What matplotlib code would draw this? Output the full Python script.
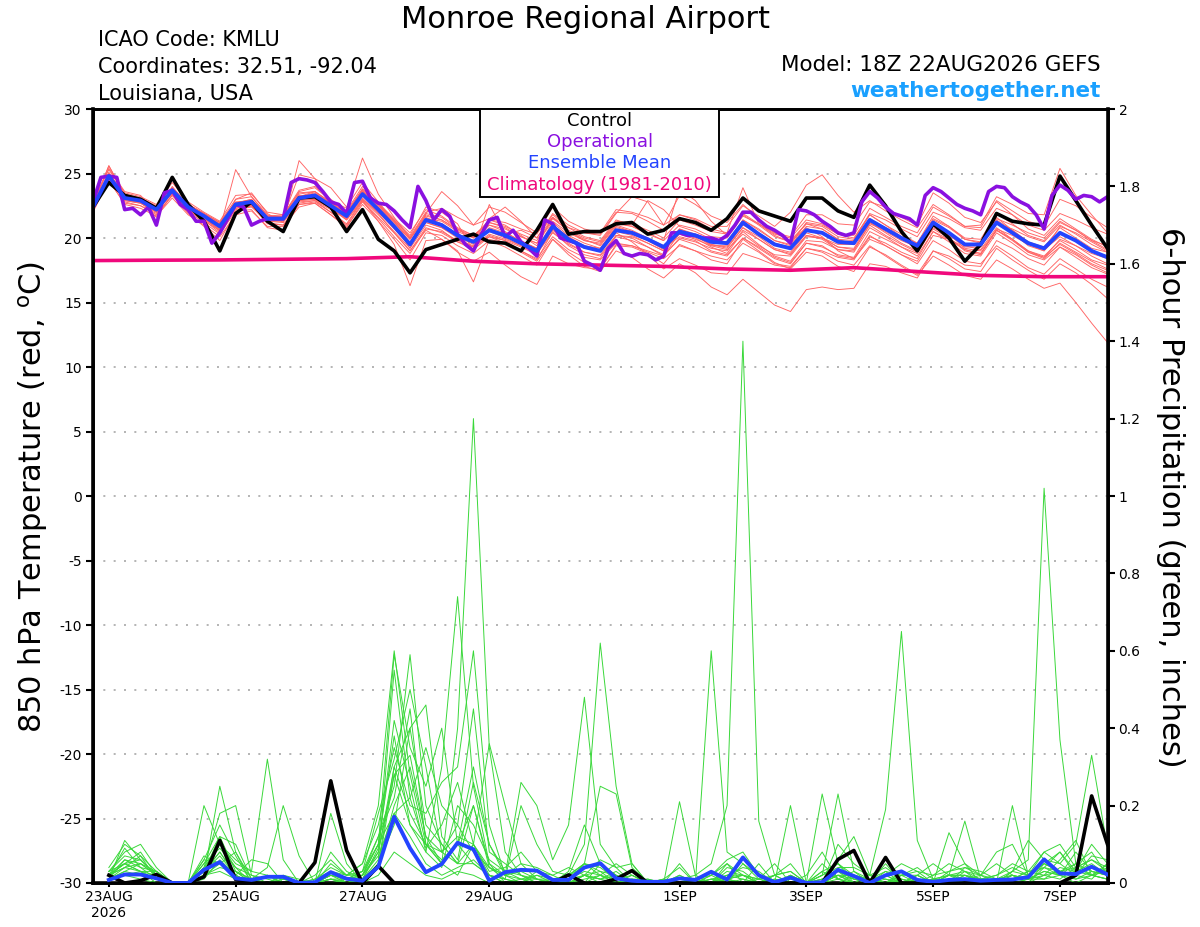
import numpy as np
import matplotlib
matplotlib.use("Agg")
import matplotlib.pyplot as plt
from matplotlib.patches import Rectangle

# ---------------- data ----------------
run_start = np.datetime64("2026-08-22T18")   # 18Z 22AUG2026, 6-hourly steps
tick_dates = np.array(["2026-08-23", "2026-08-25", "2026-08-27", "2026-08-29",
                       "2026-09-01", "2026-09-03", "2026-09-05", "2026-09-07"],
                      dtype="datetime64[h]")
tick_labels = ["23AUG\n2026", "25AUG", "27AUG", "29AUG", "1SEP", "3SEP", "5SEP", "7SEP"]

# 850 hPa temperature, 6-hourly (deg C)
control_t = [22.4, 24.3, 23.3, 23.0, 22.3, 24.7, 22.6, 21.3, 19.0, 21.9, 22.8, 21.3, 20.5, 23.1, 23.2, 22.4,
             20.5, 22.2, 19.9, 19.0, 17.3, 19.1, 19.5, 19.9, 20.3, 19.7, 19.6, 19.0, 20.6, 22.6, 20.3, 20.5,
             20.5, 21.1, 21.2, 20.3, 20.6, 21.5, 21.2, 20.6, 21.5, 23.1, 22.1, 21.7, 21.3, 23.1, 23.1, 22.1,
             21.6, 24.1, 22.5, 20.5, 19.0, 21.1, 20.0, 18.2, 19.5, 21.9, 21.3, 21.1, 21.0, 24.8, 22.9, 21.0, 19.2]
mean_t = [22.4, 24.8, 23.1, 22.9, 22.2, 23.7, 22.4, 21.7, 20.9, 22.6, 22.8, 21.5, 21.5, 23.1, 23.3, 22.5,
          21.7, 23.4, 22.2, 20.9, 19.5, 21.4, 21.0, 20.2, 19.7, 20.6, 20.2, 19.6, 19.0, 20.9, 19.9, 19.3,
          19.0, 20.6, 20.4, 19.9, 19.3, 20.5, 20.2, 19.7, 19.6, 21.2, 20.3, 19.5, 19.2, 20.6, 20.4, 19.7,
          19.6, 21.4, 20.7, 20.0, 19.4, 21.2, 20.4, 19.5, 19.5, 21.2, 20.4, 19.6, 19.2, 20.4, 19.8, 19.0, 18.5]
# operational run is 3-hourly
oper_t = [22.8, 24.7, 24.8, 24.7, 22.2, 22.3, 21.8, 22.4, 21.0, 23.5,
          23.7, 22.6, 22.2, 21.3, 21.3, 19.6, 20.4, 21.5, 22.6, 22.4,
          21.0, 21.3, 21.5, 21.5, 21.5, 24.3, 24.6, 24.5, 24.3, 23.6,
          22.8, 22.6, 21.9, 24.3, 24.4, 23.1, 22.7, 22.6, 22.1, 21.4,
          20.8, 24.0, 22.9, 21.4, 22.2, 21.7, 20.3, 19.5, 19.0, 20.3,
          21.4, 21.6, 20.1, 20.6, 19.7, 19.2, 18.6, 21.4, 21.1, 20.0,
          19.8, 19.6, 18.2, 17.9, 17.5, 19.2, 19.8, 18.8, 18.6, 18.8,
          18.7, 18.3, 18.6, 20.4, 20.4, 20.2, 20.2, 20.0, 20.0, 19.8,
          20.2, 21.0, 22.0, 22.0, 21.4, 20.9, 20.6, 20.2, 19.6, 22.2,
          22.1, 21.8, 21.3, 20.9, 20.4, 20.2, 20.4, 22.8, 23.6, 23.1,
          22.4, 21.9, 21.7, 21.5, 21.0, 23.3, 23.9, 23.6, 23.1, 22.6,
          22.3, 22.1, 21.8, 23.6, 24.0, 23.9, 23.2, 22.8, 22.5, 21.8,
          20.7, 23.3, 24.1, 23.7, 23.0, 23.3, 23.2, 22.8, 23.2]
# climatology, one value per day (every 4th step)
clim_t = [18.25, 18.28, 18.3, 18.35, 18.4, 18.55, 18.2, 18.0, 17.9,
          17.8, 17.6, 17.5, 17.7, 17.4, 17.1, 17.0, 17.0]

# ensemble members, temperature
t_m01 = [22.9, 25.3, 23.5, 23.2, 22.6, 24.3, 22.8, 22.0, 21.3, 23.3, 23.4, 22.0, 21.8, 23.7, 24.0, 23.0,
         22.1, 24.0, 22.6, 21.0, 19.2, 21.9, 21.6, 20.7, 20.0, 21.4, 21.0, 20.2, 19.4, 21.6, 20.5, 19.9,
         19.4, 21.0, 20.6, 20.0, 19.2, 20.1, 19.8, 19.0, 18.7, 20.0, 19.2, 18.4, 18.0, 19.6, 19.3, 18.7,
         18.5, 20.5, 19.9, 19.3, 18.8, 20.8, 20.2, 19.4, 19.6, 21.5, 21.0, 20.4, 20.0, 21.3, 20.6, 19.8, 19.4]
t_m02 = [22.0, 24.5, 22.6, 22.3, 21.7, 23.1, 21.8, 21.0, 20.1, 21.8, 22.1, 20.9, 20.9, 22.4, 22.7, 21.8,
         20.9, 22.6, 21.3, 19.9, 18.3, 20.4, 20.2, 19.4, 18.8, 19.8, 19.3, 18.6, 17.9, 19.9, 18.9, 18.1,
         17.6, 19.4, 19.3, 18.8, 18.0, 19.5, 19.0, 18.3, 18.0, 19.9, 19.0, 18.1, 17.6, 18.9, 18.6, 17.8,
         17.4, 19.3, 18.7, 17.9, 17.2, 19.0, 18.4, 17.6, 17.4, 19.2, 18.3, 17.5, 16.8, 18.0, 17.3, 16.4, 15.3]
t_m03 = [22.5, 25.0, 23.4, 23.1, 22.4, 23.6, 22.2, 21.5, 20.7, 25.3, 23.2, 21.8, 21.4, 23.0, 23.4, 22.7,
         21.9, 23.8, 22.6, 21.3, 20.0, 21.9, 23.6, 22.5, 21.0, 21.5, 22.4, 21.3, 20.0, 21.9, 21.0, 20.4,
         20.2, 21.9, 23.2, 22.8, 21.0, 21.8, 21.5, 20.9, 20.9, 22.5, 21.7, 20.9, 22.0, 24.1, 24.9, 23.3,
         22.0, 22.9, 22.1, 21.4, 20.8, 22.6, 21.8, 20.9, 20.8, 22.9, 22.1, 21.3, 20.9, 23.0, 22.5, 21.6, 20.8]
t_m04 = [22.2, 24.6, 22.9, 22.7, 22.0, 23.5, 22.3, 21.6, 20.6, 22.2, 22.4, 21.3, 21.2, 22.8, 22.9, 22.2,
         21.5, 23.1, 21.9, 20.4, 19.0, 20.8, 20.4, 19.7, 19.3, 20.1, 19.8, 19.0, 18.4, 20.1, 19.1, 18.5,
         18.3, 19.6, 19.4, 18.9, 18.4, 19.4, 19.0, 18.6, 18.3, 19.6, 18.9, 18.0, 17.8, 19.2, 18.9, 18.2,
         17.9, 19.4, 18.6, 17.8, 17.1, 18.6, 17.9, 17.1, 16.8, 18.3, 17.6, 16.8, 16.1, 16.5, 15.0, 13.4, 11.9]
t_m05 = [22.6, 25.4, 23.6, 23.3, 22.0, 24.0, 22.5, 21.6, 20.5, 23.0, 23.5, 21.9, 21.2, 26.0, 24.6, 23.9,
         22.4, 24.3, 22.8, 21.3, 19.6, 21.2, 20.8, 20.0, 19.3, 20.2, 19.8, 19.3, 18.7, 20.7, 19.6, 18.9,
         18.7, 20.2, 20.0, 19.3, 18.6, 20.4, 20.1, 19.5, 19.2, 20.8, 20.1, 19.2, 18.9, 20.4, 20.0, 19.3,
         19.1, 21.0, 20.2, 19.5, 18.9, 20.9, 20.3, 19.2, 19.0, 20.6, 19.9, 19.0, 18.6, 19.8, 19.1, 18.3, 17.9]
t_m06 = [22.3, 24.9, 23.2, 22.8, 22.1, 23.8, 22.5, 21.8, 21.1, 22.4, 22.5, 21.2, 21.6, 23.3, 23.2, 22.3,
         21.5, 23.6, 22.5, 21.4, 20.2, 22.4, 22.0, 21.1, 19.0, 22.6, 20.3, 20.6, 20.0, 21.8, 20.8, 20.1,
         19.8, 21.4, 21.0, 22.9, 22.2, 20.9, 20.5, 19.9, 19.7, 21.4, 20.6, 19.8, 19.4, 20.9, 20.7, 19.9,
         19.8, 21.8, 21.0, 20.3, 19.6, 21.7, 20.9, 20.0, 19.9, 21.9, 21.1, 20.2, 19.8, 21.2, 20.6, 19.8, 19.1]
t_m07 = [22.1, 24.7, 22.8, 22.5, 21.9, 23.3, 22.0, 21.2, 20.3, 22.1, 22.2, 20.8, 20.6, 22.7, 22.9, 22.0,
         21.0, 22.9, 21.3, 19.5, 16.3, 19.8, 19.9, 19.0, 16.6, 19.9, 19.6, 19.0, 18.3, 20.5, 19.4, 18.7,
         18.4, 20.2, 20.1, 19.6, 19.0, 20.4, 20.0, 19.3, 18.8, 20.5, 19.5, 18.6, 18.2, 19.8, 19.7, 19.1,
         19.0, 21.1, 20.6, 19.9, 19.3, 21.4, 20.8, 19.9, 19.7, 21.6, 20.6, 19.7, 19.1, 20.1, 19.4, 18.6, 18.0]
t_m08 = [22.6, 24.9, 23.0, 22.9, 22.3, 23.9, 22.6, 21.9, 21.2, 22.7, 22.8, 21.7, 21.8, 23.5, 23.6, 22.7,
         22.0, 23.7, 22.4, 21.2, 19.9, 21.7, 21.4, 20.6, 20.1, 21.4, 21.2, 20.7, 20.3, 22.4, 21.3, 20.7,
         20.4, 22.2, 22.0, 21.6, 21.0, 23.3, 22.6, 21.7, 21.2, 22.6, 21.5, 20.4, 19.8, 21.1, 20.7, 19.9,
         19.5, 21.2, 20.4, 19.6, 19.0, 20.7, 20.0, 19.1, 18.8, 20.6, 19.8, 18.9, 18.5, 19.9, 19.4, 18.8, 18.4]
t_m09 = [22.4, 24.6, 23.0, 22.8, 22.1, 23.5, 22.2, 21.5, 20.8, 22.6, 22.9, 21.6, 21.3, 22.9, 23.0, 22.3,
         21.4, 23.0, 21.8, 20.5, 19.2, 21.0, 20.6, 19.7, 19.1, 20.1, 19.6, 18.9, 18.2, 19.9, 18.7, 17.8,
         17.4, 19.0, 18.5, 17.6, 16.9, 18.0, 17.3, 16.2, 15.6, 16.8, 15.8, 14.8, 14.3, 16.0, 16.2, 16.0,
         16.1, 18.0, 17.8, 17.3, 16.9, 19.0, 18.6, 17.9, 17.8, 19.8, 19.2, 18.4, 17.9, 19.3, 18.7, 17.9, 17.3]
t_m10 = [22.5, 25.1, 23.3, 23.0, 22.3, 23.8, 22.4, 21.7, 21.0, 22.5, 22.6, 21.3, 21.3, 23.0, 23.1, 22.3,
         21.5, 23.3, 22.1, 20.8, 19.4, 21.2, 20.8, 20.1, 19.7, 20.8, 20.4, 19.8, 19.2, 21.2, 20.2, 19.6,
         19.2, 20.8, 20.5, 20.0, 19.4, 20.7, 20.3, 19.8, 19.6, 21.4, 20.7, 19.8, 19.5, 21.2, 21.0, 20.3,
         20.2, 22.3, 21.6, 20.9, 20.4, 22.4, 21.7, 20.9, 21.0, 23.2, 22.6, 21.9, 21.8, 25.4, 23.3, 21.8, 20.4]
t_m11 = [22.2, 24.6, 23.2, 23.0, 22.4, 23.6, 22.3, 21.8, 21.0, 22.3, 22.6, 21.4, 21.4, 23.0, 23.2, 22.5,
         21.8, 23.5, 22.3, 21.0, 19.7, 21.5, 21.1, 20.3, 19.8, 20.5, 20.0, 19.4, 18.8, 20.4, 19.5, 18.9,
         18.6, 20.1, 19.8, 19.3, 18.7, 19.9, 19.5, 18.9, 18.6, 20.0, 19.3, 18.5, 18.1, 19.6, 19.4, 18.6,
         18.4, 20.2, 19.4, 18.7, 18.0, 19.8, 19.1, 18.2, 18.0, 19.4, 18.6, 17.7, 17.2, 18.4, 17.6, 16.8, 16.2]
t_m12 = [22.5, 25.6, 23.4, 23.0, 22.2, 23.7, 22.6, 21.9, 21.2, 23.0, 23.2, 21.7, 21.7, 23.6, 23.9, 22.9,
         22.3, 26.2, 23.4, 21.6, 20.0, 21.4, 21.0, 20.3, 19.8, 21.0, 20.5, 19.7, 19.2, 21.0, 20.0, 19.3,
         19.0, 20.6, 20.3, 19.8, 19.1, 20.4, 20.1, 19.5, 19.3, 20.8, 19.9, 19.1, 18.7, 20.2, 20.0, 19.3,
         19.2, 21.2, 20.5, 19.8, 19.3, 21.1, 20.4, 19.5, 19.4, 21.4, 20.6, 19.7, 19.3, 20.8, 20.0, 19.2, 18.9]
t_m13 = [22.3, 24.7, 23.1, 22.9, 22.2, 23.8, 22.6, 21.9, 21.0, 22.5, 22.7, 21.6, 21.6, 24.9, 24.6, 22.6,
         21.8, 23.5, 22.6, 21.4, 20.1, 22.0, 22.3, 21.6, 21.0, 22.4, 22.0, 21.2, 20.4, 21.6, 20.5, 19.8,
         19.5, 21.1, 20.9, 20.4, 19.8, 23.8, 22.9, 21.3, 20.2, 21.9, 21.1, 20.3, 20.0, 21.4, 21.1, 20.3,
         20.0, 21.8, 21.0, 20.1, 19.4, 21.3, 20.4, 19.4, 19.1, 20.8, 19.9, 18.9, 18.4, 19.6, 18.9, 18.2, 17.6]
t_m14 = [22.4, 24.9, 23.0, 22.7, 22.0, 23.6, 22.2, 21.4, 20.4, 22.4, 22.6, 21.2, 21.0, 22.6, 22.7, 21.8,
         20.8, 22.8, 21.5, 20.1, 18.8, 20.7, 20.5, 19.8, 19.4, 20.3, 19.9, 19.4, 18.9, 20.6, 19.8, 19.2,
         19.0, 20.4, 19.7, 18.7, 17.6, 18.4, 17.9, 17.3, 17.2, 18.8, 18.4, 17.9, 17.7, 19.2, 19.0, 18.5,
         18.3, 20.1, 19.6, 18.9, 18.4, 20.5, 19.9, 19.1, 18.8, 20.6, 19.9, 19.0, 18.5, 19.5, 18.8, 18.0, 17.5]
t_m15 = [22.6, 25.6, 23.3, 22.8, 21.6, 23.4, 21.9, 20.9, 19.8, 22.0, 22.5, 21.3, 21.4, 23.2, 23.6, 22.8,
         22.0, 23.8, 22.7, 21.5, 20.4, 22.2, 21.7, 20.8, 20.2, 21.2, 20.8, 20.1, 19.6, 21.5, 20.6, 20.0,
         19.7, 21.3, 21.1, 20.6, 20.0, 21.4, 21.0, 20.5, 20.3, 21.8, 21.0, 20.1, 19.7, 21.1, 20.9, 20.1,
         19.9, 21.9, 21.4, 20.7, 20.1, 22.0, 21.5, 20.8, 20.6, 22.3, 21.8, 21.0, 20.6, 21.9, 21.4, 20.8, 20.3]
t_m16 = [22.3, 24.8, 23.2, 22.9, 22.3, 23.8, 22.5, 21.8, 21.1, 22.6, 22.8, 21.6, 21.4, 22.9, 23.0, 22.3,
         21.4, 22.9, 21.6, 20.4, 19.0, 20.6, 19.9, 18.9, 18.2, 18.9, 17.9, 17.0, 16.4, 18.6, 18.0, 17.7,
         17.6, 19.5, 19.4, 19.0, 18.6, 20.0, 19.7, 19.2, 19.0, 20.6, 19.9, 19.1, 18.8, 20.2, 19.9, 19.1,
         18.9, 20.8, 20.1, 19.3, 18.6, 20.5, 19.7, 18.8, 18.6, 20.4, 19.6, 18.7, 18.3, 19.3, 18.5, 17.7, 17.2]
t_m17 = [22.4, 24.8, 23.0, 22.8, 22.2, 23.6, 22.3, 21.6, 20.9, 22.7, 23.0, 21.7, 21.6, 23.2, 23.4, 22.6,
         21.8, 23.3, 22.0, 20.7, 19.4, 21.5, 21.3, 20.5, 20.0, 21.0, 20.7, 20.1, 19.6, 21.3, 20.4, 19.8,
         19.6, 21.2, 20.9, 20.3, 19.8, 21.0, 20.7, 20.1, 20.0, 21.7, 21.1, 20.4, 20.1, 21.8, 21.8, 21.1,
         21.0, 22.8, 22.4, 21.6, 21.0, 23.5, 22.7, 21.6, 21.2, 22.8, 21.8, 20.7, 20.2, 21.5, 20.7, 19.9, 19.3]
t_m18 = [22.5, 24.7, 22.9, 22.7, 22.0, 23.5, 22.1, 21.3, 20.6, 22.7, 23.0, 21.6, 21.7, 23.4, 23.6, 22.7,
         21.9, 23.6, 22.2, 20.9, 19.6, 21.6, 21.1, 20.3, 19.6, 20.7, 20.3, 19.6, 19.0, 20.8, 19.9, 19.4,
         19.2, 20.9, 20.5, 19.8, 19.2, 20.7, 20.2, 19.4, 19.1, 20.3, 19.4, 18.7, 18.6, 20.1, 20.0, 19.5,
         19.5, 21.5, 20.8, 20.0, 19.4, 21.0, 20.0, 19.0, 18.7, 20.7, 20.2, 19.5, 19.0, 20.9, 20.4, 19.7, 19.0]
t_m19 = [22.4, 25.0, 23.3, 23.1, 22.5, 23.9, 22.6, 21.9, 21.2, 22.8, 22.9, 21.5, 21.5, 23.2, 23.5, 22.7,
         21.9, 23.7, 22.4, 21.2, 19.9, 21.8, 21.4, 20.7, 20.2, 21.2, 20.9, 20.3, 19.8, 21.6, 20.8, 20.4,
         20.3, 22.0, 21.9, 21.3, 20.6, 21.8, 21.4, 20.7, 20.4, 23.9, 21.1, 20.2, 19.7, 20.8, 20.1, 19.0,
         18.4, 19.9, 19.4, 18.7, 18.2, 20.2, 19.9, 19.3, 19.3, 21.1, 20.7, 20.1, 19.7, 21.0, 20.3, 19.5, 18.9]
t_m20 = [22.2, 24.4, 22.7, 22.5, 21.8, 23.3, 22.1, 21.4, 20.7, 22.3, 22.5, 21.1, 21.0, 22.6, 22.8, 22.0,
         21.1, 23.0, 22.0, 20.8, 19.5, 21.4, 21.0, 20.1, 19.5, 20.6, 20.3, 19.7, 19.2, 21.0, 20.1, 19.4,
         19.0, 20.5, 20.2, 19.6, 19.0, 20.3, 19.9, 19.4, 19.4, 21.0, 20.4, 19.6, 19.3, 20.7, 20.4, 19.7,
         19.5, 21.3, 20.8, 20.1, 19.6, 21.5, 20.9, 19.9, 19.6, 21.2, 20.4, 19.4, 19.0, 20.3, 19.8, 19.0, 18.6]

# 6-hour precipitation (inches), valid from the first 6 h step onward
control_p = [.02, 0, .006, .022, 0, 0, .016, .11, .009, 0, 0, 0, 0, .053, .264, .084,
             0, .044, 0, 0, 0, 0, 0, 0, 0, 0, 0, 0, 0, .021, 0, 0,
             .01, .032, 0, 0, 0, 0, 0, 0, 0, 0, 0, 0, 0, 0, .061, .084,
             0, .066, 0, 0, 0, 0, 0, 0, 0, 0, 0, 0, 0, .02, .225, .10]
mean_p = [.008, .022, .022, .012, 0, 0, .034, .054, .012, .008, .016, .016, 0, .002, .028, .011,
          .006, .042, .171, .09, .028, .049, .104, .087, .006, .028, .034, .032, .008, .008, .04, .051,
          .012, .006, .003, .003, .012, .008, .029, .009, .066, .02, .002, .014, 0, .002, .034, .018,
          0, .02, .03, .008, .003, .008, .01, .006, .008, .009, .015, .061, .025, .023, .042, .022]

p_m01 = [.02, .05, .03, 0, 0, 0, .03, .08, .02, 0, 0, .01, 0, 0, .02, 0,
         0, .05, .20, .30, .12, .05, .40, 1.20, .35, .08, .02, 0, 0, .01, .05, .02,
         0, 0, 0, 0, .02, 0, 0, .05, 0, 0, .01, 0, 0, .03, .01, 0,
         0, .02, 0, 0, 0, .01, 0, 0, 0, .02, 0, .05, .03, .01, .02, .01]
p_m02 = [.01, .11, .06, .02, 0, 0, .05, .12, .03, 0, 0, 0, 0, 0, 0, .01,
         .02, .10, .38, .15, .08, .30, .74, .25, .05, 0, 0, .02, .01, 0, 0, .05,
         .02, 0, 0, 0, .01, .02, .05, .20, 1.40, .16, .02, 0, 0, 0, .02, 0,
         0, 0, 0, 0, .01, 0, .02, 0, 0, 0, .01, .03, .02, .05, .03, .02]
p_m03 = [.03, .08, .10, .04, 0, 0, .02, .25, .08, 0, 0, 0, 0, .01, .03, .02,
         .05, .20, .60, .28, .10, .05, .02, .10, .04, .01, 0, 0, 0, 0, .02, 0,
         0, .01, 0, 0, 0, 0, 0, 0, .05, .02, 0, 0, 0, .03, .05, .01,
         0, 0, 0, .02, .05, .02, .01, 0, 0, .03, .06, 1.02, .37, .05, .08, .02]
p_m04 = [.02, .06, .05, .02, 0, 0, .20, .10, .04, 0, .02, .01, 0, 0, .05, .02,
         .03, .12, .25, .59, .20, .10, .05, .05, .02, .01, 0, 0, 0, .02, .10, .62,
         .25, .05, 0, 0, 0, 0, 0, .01, 0, 0, 0, .02, 0, 0, .10, .05,
         .02, .19, .65, .11, .01, 0, .02, .01, 0, 0, 0, .02, .01, .04, .02, .03]
p_m05 = [.01, .04, .07, .01, 0, 0, .04, .18, .20, .02, 0, 0, 0, 0, .01, 0,
         0, .05, .15, .40, .46, .12, .06, .26, .10, .03, .01, 0, 0, 0, 0, .02,
         .05, .02, 0, .01, .04, 0, .60, .08, .05, .01, 0, 0, 0, .01, .03, .01,
         0, 0, .01, 0, 0, .02, .03, .01, .02, .05, .03, .08, .05, .10, .33, .09]
p_m06 = [.02, .09, .04, .03, 0, 0, .03, .10, .05, .03, .32, .06, 0, 0, .02, .01,
         .02, .08, .30, .18, .10, .08, .15, .45, .08, .05, .02, 0, 0, .03, .15, .05,
         .02, 0, 0, 0, .21, .02, 0, .03, .02, 0, 0, .20, 0, 0, .02, 0,
         0, .05, 0, 0, 0, .02, .16, .01, 0, .20, .02, .01, .02, .03, .05, .02]
p_m07 = [.02, .05, .08, .02, 0, 0, .07, .05, .03, .01, .04, .20, .07, 0, .01, 0,
         .01, .06, .55, .22, .09, .15, .26, .10, .36, .20, .05, .01, 0, 0, .05, .25,
         .23, .04, 0, 0, 0, .01, .02, 0, 0, .05, 0, 0, 0, .23, .05, 0,
         0, 0, .03, 0, 0, .13, .05, 0, 0, .02, 0, .04, .08, .02, .01, .05]
p_m08 = [.01, .03, .02, .01, 0, 0, .01, .06, .02, .06, .05, 0, 0, 0, .18, .05,
         0, .04, .28, .15, .10, .05, .10, .20, .04, .02, .26, .20, .06, .15, .48, .10,
         .04, 0, 0, 0, .02, 0, 0, .01, 0, 0, 0, .02, 0, .02, .05, .02,
         0, .01, 0, .02, 0, 0, .03, 0, .01, .03, .11, .06, .02, 0, .02, .01]
p_m09 = [.01, .02, .01, 0, 0, 0, .02, .03, .01, 0, 0, 0, 0, 0, 0, 0,
         0, .02, .08, .05, .02, .01, .03, .02, 0, 0, 0, 0, .01, .02, .04, .05,
         0, 0, 0, 0, 0, 0, .01, .02, .02, .01, 0, .01, 0, 0, .01, .03,
         .01, 0, .02, .03, .02, .05, .03, .02, .08, .10, .02, .05, .03, .04, .06, .04]
p_m10 = [.03, .05, .03, .01, 0, 0, .03, .07, .02, 0, 0, .02, 0, 0, .03, .01,
         .02, .10, .59, .35, .25, .40, .10, .05, .02, 0, .01, .02, 0, .01, .03, .02,
         0, 0, 0, .01, 0, 0, .02, .05, .02, 0, .01, 0, 0, 0, .02, .01,
         .01, .02, 0, 0, .01, .02, .02, 0, 0, .01, .02, .05, .08, .03, .10, .05]
p_m11 = [.02, .04, .05, .02, 0, 0, .05, .09, .04, .02, .01, 0, 0, .01, .04, .02,
         .05, .15, .35, .20, .18, .26, .30, .60, .15, .02, 0, 0, 0, 0, .02, .03,
         .02, 0, 0, 0, .05, 0, .02, .06, .08, .02, 0, 0, .02, .08, .01, 0,
         0, .03, 0, .02, 0, .01, .01, .02, .05, .02, .01, .02, .03, .02, .04, .03]
p_m12 = [.01, .02, .03, .02, 0, 0, .02, .05, .08, .01, 0, .02, .01, 0, .02, .01,
         .03, .18, .32, .50, .30, .08, .05, .10, .02, .01, .20, .10, .03, .02, .05, .04,
         .01, .02, 0, 0, 0, 0, .01, 0, .01, 0, .02, .05, 0, 0, .06, .12,
         .02, 0, .02, .02, 0, 0, .01, .01, .02, .04, .02, .08, .10, .04, .06, .03]
p_m13 = [.03, .07, .06, .02, 0, 0, .04, .10, .06, .03, .02, 0, 0, .02, .06, .02,
         .02, .07, .18, .12, .05, .02, .04, .06, .02, 0, 0, .03, .02, 0, .02, .01,
         0, .01, .01, 0, .01, 0, 0, .02, .01, 0, .02, .03, 0, .02, .23, .03,
         0, 0, .01, 0, .02, .03, .05, .02, 0, .01, .03, .04, .02, .08, .03, .02]
p_m14 = [.02, .04, .03, .03, 0, 0, .06, .05, .03, 0, 0, .01, 0, 0, .08, .03,
         .01, .09, .42, .25, .08, .04, .20, .15, .06, .03, .02, .01, 0, 0, .02, .06,
         .04, .05, 0, 0, 0, .01, 0, .01, .02, .01, .02, 0, 0, .01, .02, .02,
         .01, .03, .02, 0, 0, .02, .02, .01, .01, .01, .03, .02, .06, .11, .02, .04]
p_m15 = [.01, .06, .04, .01, 0, 0, .03, .12, .10, .01, 0, 0, 0, 0, .03, 0,
         .02, .12, .22, .45, .10, .06, .10, .30, .10, .02, .03, .01, .01, .01, .02, .01,
         .03, 0, 0, 0, 0, .01, 0, .04, .03, 0, 0, 0, 0, .05, .01, 0,
         0, .02, .05, .03, 0, .01, .01, 0, .01, .02, .01, .06, .05, .02, .07, .06]
p_m16 = [.04, .10, .07, .03, 0, 0, .03, .08, .02, 0, .02, 0, 0, 0, .01, .01,
         .01, .05, .30, .40, .15, .10, .05, .20, .05, .02, .01, .01, 0, .02, .05, .03,
         0, .02, 0, .01, 0, 0, 0, .02, .04, .03, 0, .02, 0, 0, 0, .02,
         .01, 0, .02, .04, .01, 0, .04, .02, .01, 0, .01, .03, .02, .01, .03, .02]
p_m17 = [.02, .05, .06, .02, 0, 0, .02, .04, .03, .01, 0, 0, 0, 0, .02, .01,
         .03, .10, .18, .22, .35, .20, .15, .08, .04, .02, .05, .04, .02, .04, .02, .01,
         .02, 0, .01, 0, 0, 0, 0, .01, 0, .01, .05, 0, 0, .01, .03, 0,
         .02, .04, .01, 0, .01, .02, 0, .01, 0, .03, .02, .04, .03, .05, .02, .01]
p_m18 = [.01, .03, .05, .03, 0, 0, .06, .15, .07, 0, 0, 0, 0, 0, .01, 0,
         .01, .08, .28, .33, .12, .08, .12, .10, .03, .04, .08, .03, .01, 0, .01, .02,
         .01, .01, 0, 0, 0, 0, .01, .01, .02, 0, .02, .03, 0, .02, .04, .04,
         .02, .01, 0, .01, 0, .03, .04, .03, .01, .02, .01, .01, .04, .03, .02, .05]

temp_members = [t_m01, t_m02, t_m03, t_m04, t_m05, t_m06, t_m07, t_m08, t_m09, t_m10,
                t_m11, t_m12, t_m13, t_m14, t_m15, t_m16, t_m17, t_m18, t_m19, t_m20]
precip_members = [p_m01, p_m02, p_m03, p_m04, p_m05, p_m06, p_m07, p_m08, p_m09,
                  p_m10, p_m11, p_m12, p_m13, p_m14, p_m15, p_m16, p_m17, p_m18]

# ---------------- colours ----------------
c_member_t = "#ff6464"
c_member_p = "#3ad83a"
c_oper = "#8a10e0"
c_mean = "#2344ff"
c_clim = "#f0087c"
c_site = "#1aa0ff"

plt.rcParams["font.family"] = ["DejaVu Sans"]

fig = plt.figure(figsize=(12, 9.27), dpi=100)
ax = fig.add_axes([93 / 1200, 1 - 883 / 927, 1014.5 / 1200, 774 / 927])
ax2 = ax.twinx()

# temperature (left axis)
for m in temp_members:
    ax.plot(np.arange(len(m)), m, color=c_member_t, lw=0.65, zorder=1)
ax.plot(np.arange(len(clim_t)) * 4, clim_t, color=c_clim, lw=2.6, zorder=2)
ax.plot(np.arange(len(control_t)), control_t, color="black", lw=2.6, zorder=3)
ax.plot(np.arange(len(oper_t)) / 2, oper_t, color=c_oper, lw=2.6, zorder=4)
ax.plot(np.arange(len(mean_t)), mean_t, color=c_mean, lw=2.8, zorder=5)

# precipitation (right axis)
for m in precip_members:
    ax2.plot(np.arange(1, len(m) + 1), m, color=c_member_p, lw=0.7, zorder=1)
ax2.plot(np.arange(1, len(control_p) + 1), control_p, color="black", lw=2.6, zorder=3)
ax2.plot(np.arange(1, len(mean_p) + 1), mean_p, color=c_mean, lw=2.8, zorder=4)

# axes setup
ax.set_xlim(0, 64)
ax.set_ylim(-30, 30)
ax2.set_ylim(0, 2)
tick_pos = (tick_dates - run_start) / np.timedelta64(6, "h")
ax.set_xticks(tick_pos)
ax.set_xticklabels(tick_labels, fontsize=10, linespacing=1.2)
ax.set_yticks(np.arange(-30, 31, 5))
ax.set_yticklabels([str(v) for v in range(-30, 31, 5)], fontsize=10)
ax2.set_yticks(np.arange(0, 2.01, 0.2))
ax2.set_yticklabels(["%g" % round(v, 1) for v in np.arange(0, 2.01, 0.2)], fontsize=10)

ax.yaxis.grid(True, color="#a8a8a8", linestyle=(0, (1.2, 5)), lw=1.2)
ax.set_axisbelow(True)
ax.tick_params(axis="y", direction="out", length=5, width=1.5, pad=3)
ax.tick_params(axis="x", direction="out", length=3, width=1.5, pad=2)
ax2.tick_params(axis="y", direction="out", length=5, width=1.5, pad=3)
for a in (ax, ax2):
    for s in a.spines.values():
        s.set_linewidth(2)
        s.set_color("black")
ax.spines["left"].set_linewidth(2.6)
ax2.spines["right"].set_linewidth(2.6)
ax.spines["bottom"].set_linewidth(2.6)

# legend box
ax2.add_patch(Rectangle((0.3815, 0.886), 0.2355, 0.114, transform=ax2.transAxes,
                        facecolor="white", edgecolor="black", lw=1.4, zorder=10))
legend_items = [("Control", "black", 0.9845), ("Operational", c_oper, 0.957),
                ("Ensemble Mean", c_mean, 0.930), ("Climatology (1981-2010)", c_clim, 0.902)]
for txt, col, yy in legend_items:
    ax2.text(0.4995, yy, txt, color=col, fontsize=13, ha="center", va="center",
             transform=ax2.transAxes, zorder=11)

# axis titles
fig.text(33 / 1200, 1 - 497 / 927, r"850 hPa Temperature (red, $^{\mathrm{o}}$C)",
         rotation=90, ha="center", va="center", fontsize=22)
fig.text(1170 / 1200, 1 - 497 / 927, "6-hour Precipitation (green, inches)",
         rotation=270, ha="center", va="center", fontsize=22)

# header
fig.text(0.488, 1 - 19 / 927, "Monroe Regional Airport", ha="center", va="center", fontsize=22)
fig.text(98 / 1200, 1 - 45.7 / 927, "ICAO Code: KMLU", ha="left", va="baseline", fontsize=15)
fig.text(98 / 1200, 1 - 72.7 / 927, "Coordinates: 32.51, -92.04", ha="left", va="baseline", fontsize=15)
fig.text(98 / 1200, 1 - 100 / 927, "Louisiana, USA", ha="left", va="baseline", fontsize=15)
fig.text(1101 / 1200, 1 - 70.7 / 927, "Model: 18Z 22AUG2026 GEFS", ha="right", va="baseline", fontsize=15.5)
fig.text(1101 / 1200, 1 - 96.7 / 927, "weathertogether.net", ha="right", va="baseline",
         fontsize=15.5, fontweight="bold", color=c_site)

fig.savefig("out.png", dpi=100)
